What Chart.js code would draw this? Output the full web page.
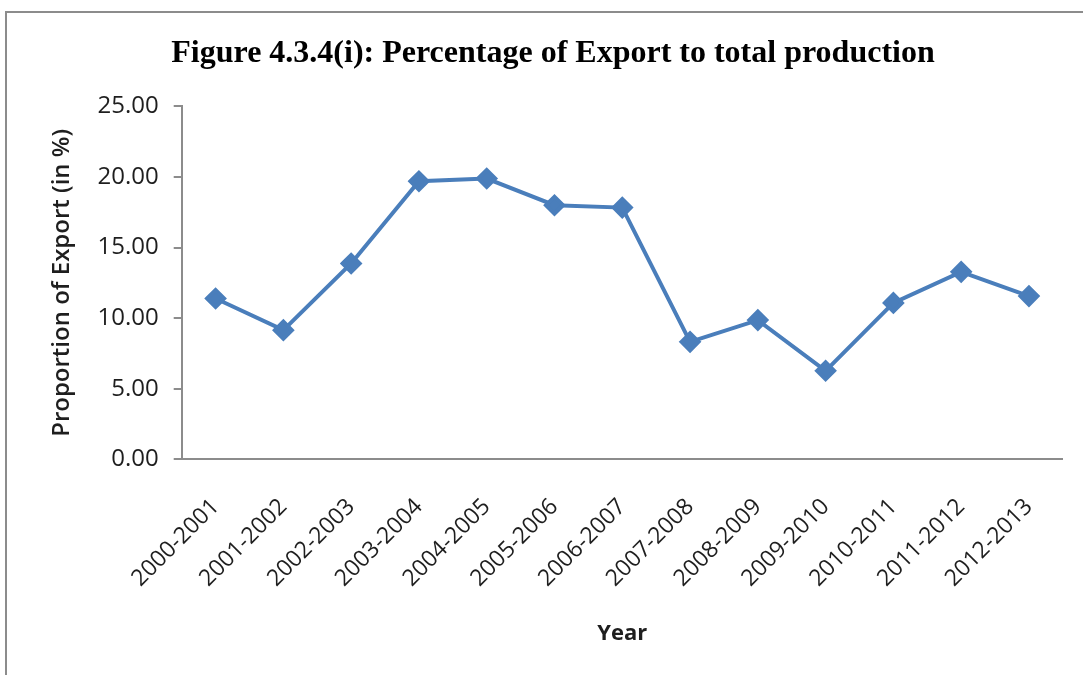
<!DOCTYPE html>
<html>
<head>
<meta charset="utf-8">
<script src="https://cdn.jsdelivr.net/npm/chart.js@4.4.1/dist/chart.umd.min.js"></script>
<style>
  body { margin: 0; background: #fff; }
  #frame { position: absolute; left: 5px; top: 11px; width: 1100px; height: 700px;
           border-top: 2px solid #8c8c8c; border-left: 2px solid #8c8c8c; }
  #wrap { position: absolute; left: 0; top: 0; width: 1083px; height: 675px; }
</style>
</head>
<body>
<div id="frame"></div>
<div id="wrap"><canvas id="exportChart" width="1083" height="675"></canvas></div>
<script>
const years = ['2000-2001', '2001-2002', '2002-2003', '2003-2004', '2004-2005', '2005-2006',
    '2006-2007', '2007-2008', '2008-2009', '2009-2010', '2010-2011', '2011-2012', '2012-2013'];
const exportShare = [11.39, 9.15, 13.87, 19.70, 19.89, 18.00, 17.83, 8.32, 9.86, 6.27, 11.08, 13.28, 11.56];

const chartTitle = 'Figure 4.3.4(i): Percentage of Export to total production';
const yTitle = 'Proportion of Export (in %)';
const xTitle = 'Year';

const lineColor = '#4a7ebb';
const axisColor = '#8c8c8c';
const textColor = '#1e1e1e';

const ctx = document.getElementById('exportChart').getContext('2d');

new Chart(ctx, {
    type: 'line',
    data: {
        labels: years,
        datasets: [{
            label: 'Export share',
            data: exportShare,
            borderColor: lineColor,
            backgroundColor: lineColor,
            borderWidth: 4,
            pointStyle: 'rectRot',
            pointRadius: 8.5,
            pointHoverRadius: 8.5,
            tension: 0,
            fill: false
        }]
    },
    options: {
        responsive: false,
        animation: false,
        layout: { padding: { left: 37, right: 14, top: 0, bottom: 0 } },
        plugins: {
            legend: { display: false },
            tooltip: { enabled: false },
            title: {
                display: true,
                text: chartTitle,
                color: '#000',
                font: { family: '"Liberation Serif"', size: 32, weight: 'bold' },
                padding: { top: 35, bottom: 33 }
            }
        },
        scales: {
            x: {
                offset: true,
                grid: { display: false, drawTicks: false },
                border: { display: true, color: axisColor, width: 2 },
                ticks: {
                    color: textColor,
                    font: { family: '"Open Sans"', size: 23 },
                    minRotation: 45,
                    maxRotation: 45,
                    padding: 34,
                    autoSkip: false
                },
                title: {
                    display: true,
                    text: xTitle,
                    color: textColor,
                    font: { family: '"Open Sans"', size: 22, weight: 'bold' },
                    padding: { top: 4, bottom: 28 }
                },
                afterFit: s => { s.height = 215.7; }
            },
            y: {
                min: 0,
                max: 25,
                grid: { display: true, drawOnChartArea: false, drawTicks: true, tickLength: 8, color: axisColor, lineWidth: 2 },
                border: { display: true, color: axisColor, width: 2 },
                ticks: {
                    stepSize: 5,
                    color: textColor,
                    font: { family: '"Open Sans"', size: 24 },
                    padding: 15,
                    callback: v => Number(v).toFixed(2)
                },
                title: {
                    display: true,
                    text: yTitle,
                    color: textColor,
                    font: { family: '"Open Sans"', size: 24, weight: '600' },
                    padding: { top: 11, bottom: 0 }
                },
                afterFit: s => { s.width = 144.7; }
            }
        }
    }
});
</script>
</body>
</html>
